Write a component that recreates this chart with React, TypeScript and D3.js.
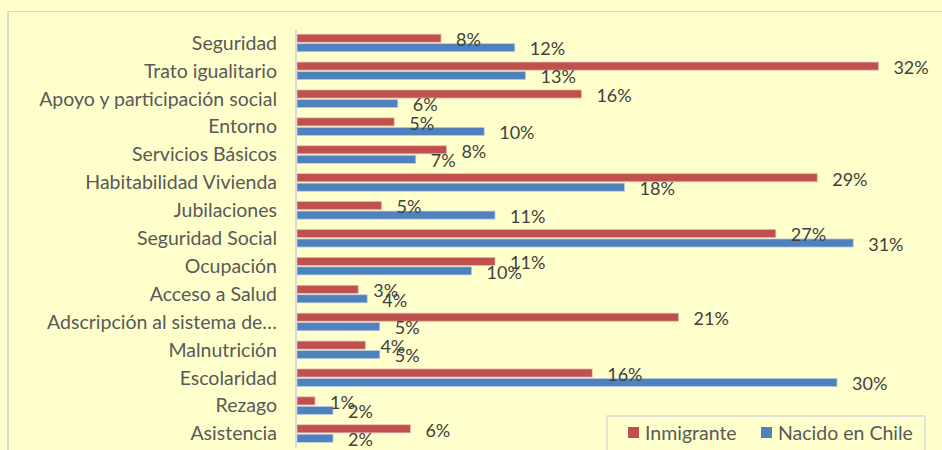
import React, { useEffect, useRef } from 'react';
import * as d3 from 'd3';

const categories = [
  'Seguridad',
  'Trato igualitario',
  'Apoyo y participación social',
  'Entorno',
  'Servicios Básicos',
  'Habitabilidad Vivienda',
  'Jubilaciones',
  'Seguridad Social',
  'Ocupación',
  'Acceso a Salud',
  'Adscripción al sistema de…',
  'Malnutrición',
  'Escolaridad',
  'Rezago',
  'Asistencia',
];

const seriesNames = ['Inmigrante', 'Nacido en Chile'];

// porcentajes
const inmigrante = [8.0, 32.3, 15.8, 5.4, 8.3, 28.9, 4.7, 26.6, 11.0, 3.4, 21.2, 3.8, 16.4, 1.0, 6.3];
const nacidoEnChile = [12.1, 12.7, 5.6, 10.4, 6.6, 18.2, 11.0, 30.9, 9.7, 3.9, 4.6, 4.6, 30.0, 2.0, 2.0];

const colors = ['#C0504D', '#4F81BD'];
const strokes = ['#E6B9B8', '#B9CDE5'];

const App = () => {
  const svgRef = useRef(null);

  useEffect(() => {
    const svg = d3.select(svgRef.current);
    svg.selectAll('*').remove();

    const width = 942;
    const height = 450;
    const font = 'Lato, "Open Sans", sans-serif';

    svg.attr('width', width).attr('height', height);

    // fondo y borde del área del gráfico
    svg.append('rect')
      .attr('width', width)
      .attr('height', height)
      .style('fill', '#FFFFCC');

    svg.append('path')
      .attr('d', `M8,${height} V11.5 H${width}`)
      .style('fill', 'none')
      .style('stroke', '#D9D9D9')
      .style('stroke-width', 1);
    svg.append('line')
      .attr('x1', 8).attr('x2', 8)
      .attr('y1', 11).attr('y2', height)
      .style('stroke', '#D9D9D9')
      .style('stroke-width', 2);

    const x = d3.scaleLinear().domain([0, 35]).range([297, 927]);

    const y = d3.scaleBand()
      .domain(categories)
      .range([29, 447.5])
      .padding(0);

    const ySeries = d3.scaleBand()
      .domain(seriesNames)
      .range([0, y.bandwidth()])
      .paddingInner(0.15)
      .paddingOuter(0.545);

    const rows = categories.map((c, i) => ({
      category: c,
      values: [inmigrante[i], nacidoEnChile[i]],
    }));

    const bars = rows.flatMap(r =>
      r.values.map((v, j) => ({ category: r.category, series: seriesNames[j], idx: j, value: v }))
    );

    const chart = svg.append('g');

    chart.selectAll('.bar')
      .data(bars)
      .enter()
      .append('rect')
      .attr('class', 'bar')
      .attr('x', x(0))
      .attr('y', d => y(d.category) + ySeries(d.series))
      .attr('width', d => x(d.value) - x(0))
      .attr('height', ySeries.bandwidth())
      .style('fill', d => colors[d.idx])
      .style('stroke', d => strokes[d.idx])
      .style('stroke-width', 0.75);

    // etiquetas de datos
    chart.selectAll('.label')
      .data(bars)
      .enter()
      .append('text')
      .attr('class', 'label')
      .attr('x', d => x(d.value) + 15)
      .attr('y', d => y(d.category) + ySeries(d.series) + ySeries.bandwidth() / 2 + 1.5)
      .attr('dy', '0.35em')
      .style('font-family', font)
      .style('font-size', '18px')
      .style('fill', '#404040')
      .text(d => `${Math.round(d.value)}%`);

    // eje vertical
    chart.append('line')
      .attr('x1', x(0) - 1).attr('x2', x(0) - 1)
      .attr('y1', y.range()[0] + 1).attr('y2', y.range()[1])
      .style('stroke', '#D9D9D9')
      .style('stroke-width', 2);

    chart.selectAll('.cat')
      .data(categories)
      .enter()
      .append('text')
      .attr('class', 'cat')
      .attr('x', x(0) - 20)
      .attr('y', d => y(d) + y.bandwidth() / 2)
      .attr('dy', '0.35em')
      .attr('text-anchor', 'end')
      .style('font-family', font)
      .style('font-size', '19.5px')
      .style('fill', '#595959')
      .text(d => d);

    // leyenda
    const legend = svg.append('g').attr('transform', 'translate(607,416)');
    legend.append('rect')
      .attr('width', 318)
      .attr('height', 40)
      .style('fill', '#FFFFCC')
      .style('stroke', '#D9D9D9')
      .style('stroke-width', 1.5);

    const itemX = [21, 154];
    const item = legend.selectAll('.item')
      .data(seriesNames)
      .enter()
      .append('g')
      .attr('transform', (d, i) => `translate(${itemX[i]},11)`);
    item.append('rect')
      .attr('width', 11)
      .attr('height', 11)
      .style('fill', (d, i) => colors[i]);
    item.append('text')
      .attr('x', 17)
      .attr('y', 6)
      .attr('dy', '0.35em')
      .style('font-family', font)
      .style('font-size', '19.5px')
      .style('fill', '#595959')
      .text(d => d);
  }, []);

  return (
    <svg ref={svgRef} style={{ position: 'absolute', left: 0, top: 0, display: 'block' }}></svg>
  );
};

export default App;
